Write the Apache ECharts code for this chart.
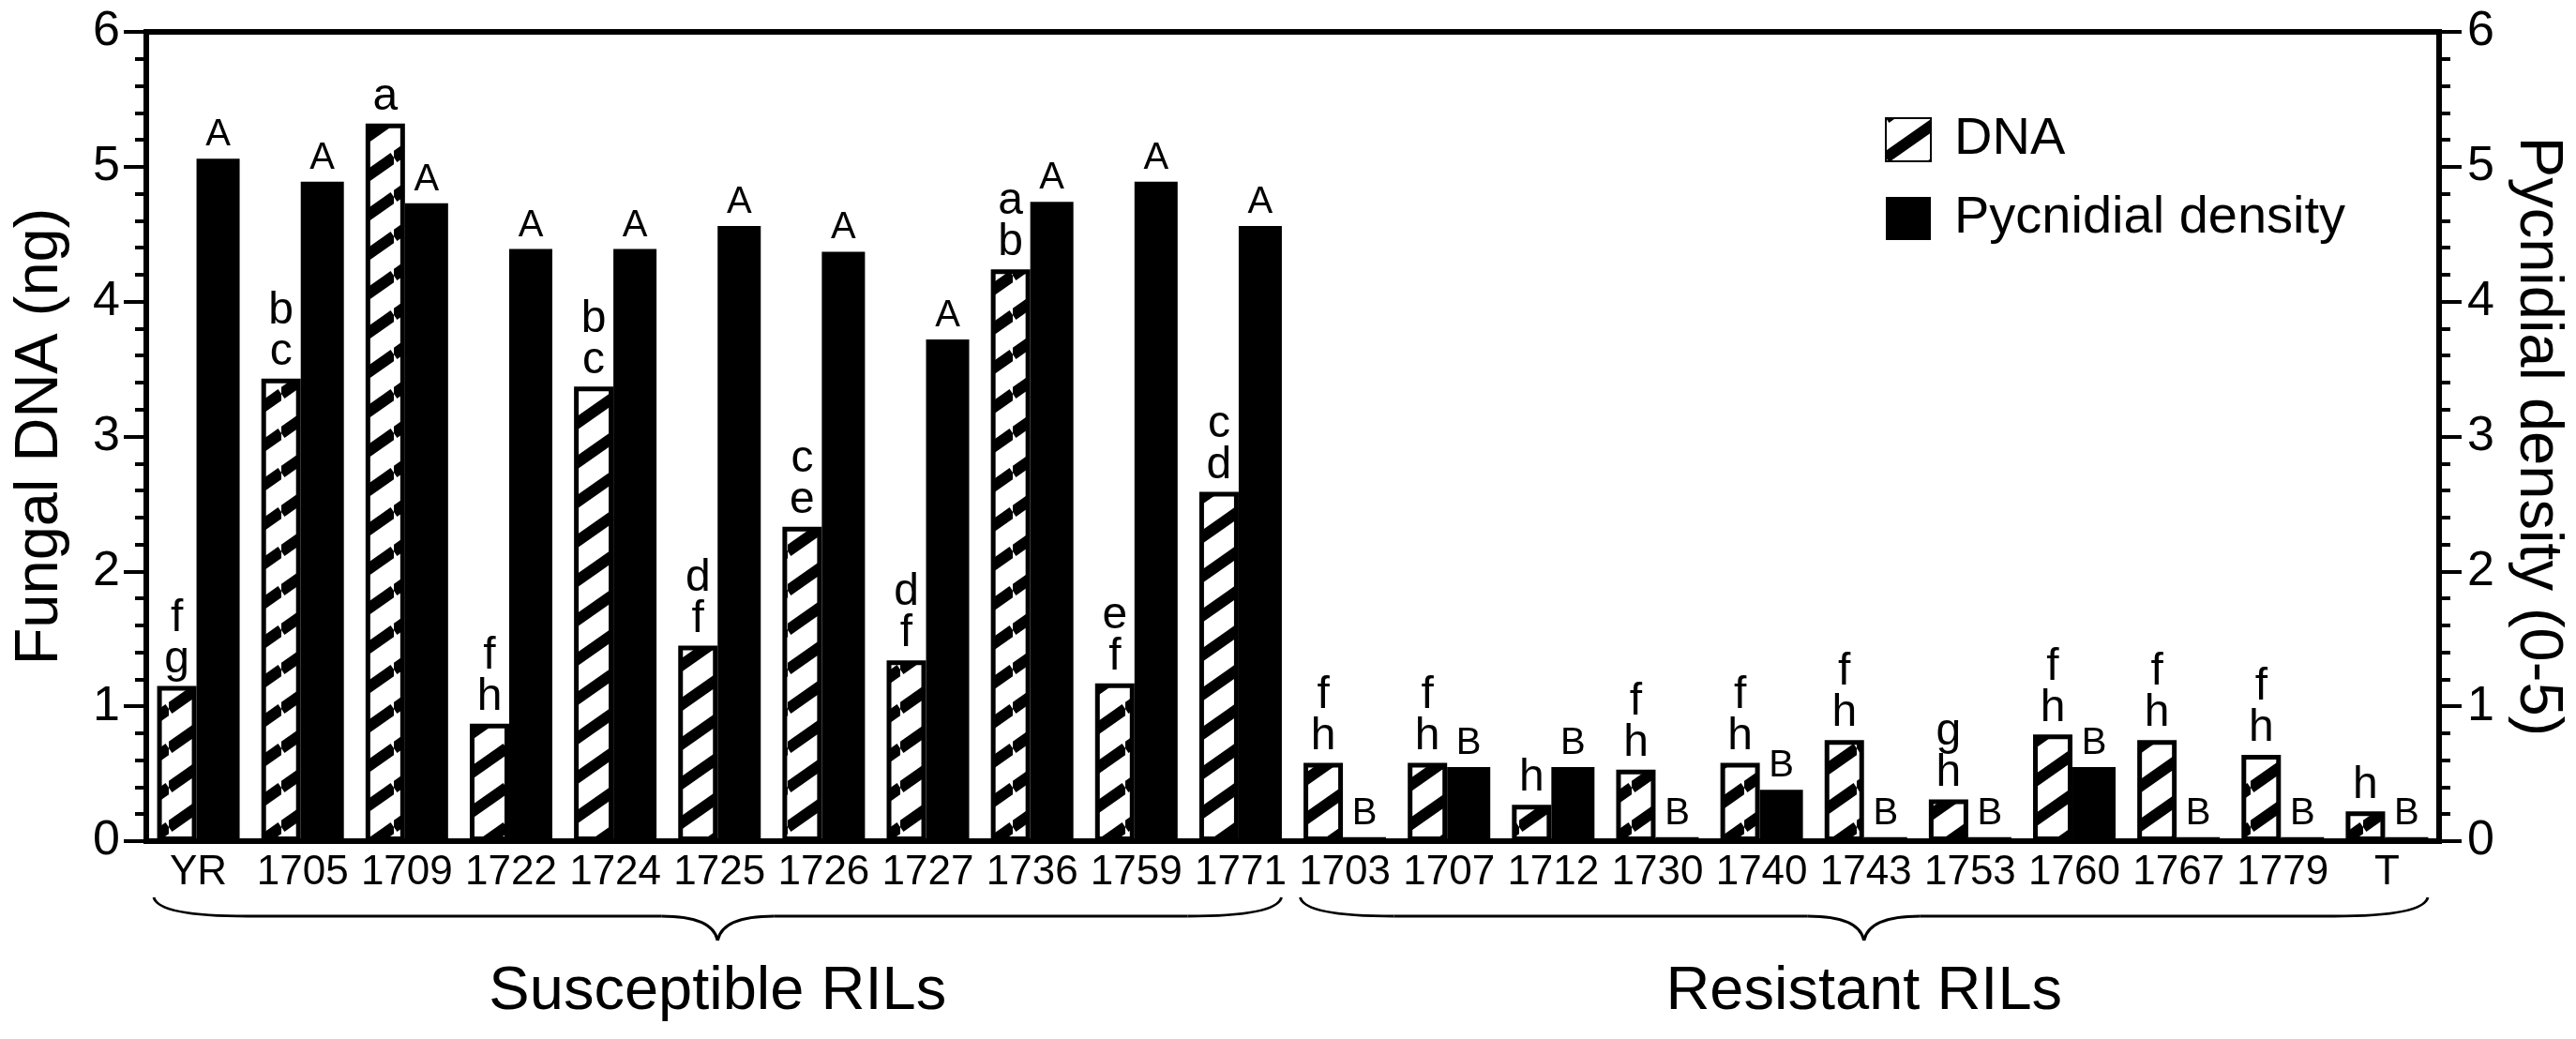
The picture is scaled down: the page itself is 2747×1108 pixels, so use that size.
<!DOCTYPE html>
<html lang="en">
<head>
<meta charset="utf-8" />
<title>Fungal DNA and pycnidial density in RILs</title>
<style>
    html, body { margin: 0; padding: 0; background: #fff; }
    #main { width: 2747px; height: 1108px; }
</style>
<script type="text/javascript" src="https://cdn.jsdelivr.net/npm/echarts@6.0.0/dist/echarts.min.js"></script>
</head>
<body>
<div id="main"></div>
<script type="text/javascript">
// RIL lines on the x axis
var lines = ['YR', '1705', '1709', '1722', '1724', '1725', '1726', '1727', '1736', '1759', '1771',
             '1703', '1707', '1712', '1730', '1740', '1743', '1753', '1760', '1767', '1779', 'T'];

// fungal DNA (ng), left axis
var dnaValues = [1.15, 3.43, 5.32, 0.87, 3.37, 1.45, 2.33, 1.34, 4.24, 1.17, 2.59,
                 0.58, 0.58, 0.27, 0.53, 0.58, 0.75, 0.31, 0.79, 0.75, 0.64, 0.22];

// pycnidial density (0-5), right axis
var densityValues = [5.06, 4.89, 4.73, 4.39, 4.39, 4.56, 4.37, 3.72, 4.74, 4.89, 4.56,
                     0.03, 0.55, 0.55, 0.03, 0.38, 0.03, 0.03, 0.55, 0.03, 0.03, 0.03];

// significance letters ('/' = new line)
var dnaLetters = ['f/g', 'b/c', 'a', 'f/h', 'b/c', 'd/f', 'c/e', 'd/f', 'a/b', 'e/f', 'c/d',
                  'f/h', 'f/h', 'h', 'f/h', 'f/h', 'f/h', 'g/h', 'f/h', 'f/h', 'f/h', 'h'];
var densityLetters = ['A', 'A', 'A', 'A', 'A', 'A', 'A', 'A', 'A', 'A', 'A',
                      'B', 'B', 'B', 'B', 'B', 'B', 'B', 'B', 'B', 'B', 'B'];

// groups under the axis
var groupNames = ['Susceptible RILs', 'Resistant RILs'];
var groupFirst = ['YR', '1703'];
var groupLast = ['1771', 'T'];

var FONT = '"Liberation Sans", Arial, Helvetica, sans-serif';

// diagonal hatch used for the DNA bars
function makeHatch() {
    var w = 60, h = 42;
    var c = document.createElement('canvas');
    c.width = w;
    c.height = h;
    var ctx = c.getContext('2d');
    ctx.fillStyle = '#fff';
    ctx.fillRect(0, 0, w, h);
    ctx.strokeStyle = '#000';
    ctx.lineWidth = 12;
    for (var k = -1; k <= 1; k++) {
        ctx.beginPath();
        ctx.moveTo(0, h + k * h);
        ctx.lineTo(w, k * h);
        ctx.stroke();
    }
    return c;
}
var hatch = { image: makeHatch(), repeat: 'repeat' };

var black = '#000';
var tickStyle = { color: black, width: 4 };

var chart = echarts.init(document.getElementById('main'));

var option = {
    animation: false,
    backgroundColor: '#fff',
    textStyle: { fontFamily: FONT, color: black },
    grid: {
        left: 156, right: 146, top: 34, bottom: 211,
        show: true, borderColor: black, borderWidth: 6,
        containLabel: false, outerBoundsMode: 'none'
    },
    legend: {
        orient: 'vertical',
        left: 2005, top: 116,
        itemWidth: 48, itemHeight: 46, itemGap: 28,
        icon: 'rect',
        textStyle: { fontSize: 56, color: black, fontFamily: FONT, padding: [0, 0, 0, 20] },
        data: ['DNA', 'Pycnidial density']
    },
    xAxis: {
        type: 'category',
        data: lines,
        axisLine: { lineStyle: { color: black, width: 6 } },
        axisTick: { length: 18, lineStyle: tickStyle },
        axisLabel: { fontSize: 44, color: black, margin: 12, interval: 0, fontFamily: FONT },
        splitLine: { show: false }
    },
    yAxis: [
        {
            type: 'value', position: 'left', min: 0, max: 6, interval: 1,
            name: 'Fungal DNA (ng)', nameLocation: 'middle', nameGap: 80,
            nameTextStyle: { fontSize: 65, color: black, fontFamily: FONT },
            axisLine: { show: true, lineStyle: { color: black, width: 6 } },
            axisTick: { show: true, length: 24, lineStyle: tickStyle },
            minorTick: { show: true, splitNumber: 5, length: 12, lineStyle: tickStyle },
            axisLabel: { fontSize: 52, color: black, margin: 28, fontFamily: FONT },
            splitLine: { show: false }
        },
        {
            type: 'value', position: 'right', min: 0, max: 6, interval: 1,
            name: 'Pycnidial density (0-5)', nameLocation: 'middle', nameGap: 72, nameRotate: -90,
            nameTextStyle: { fontSize: 65, color: black, fontFamily: FONT },
            axisLine: { show: true, lineStyle: { color: black, width: 6 } },
            axisTick: { show: true, length: 24, lineStyle: tickStyle },
            minorTick: { show: true, splitNumber: 5, length: 12, lineStyle: tickStyle },
            axisLabel: { fontSize: 52, color: black, margin: 30, fontFamily: FONT },
            splitLine: { show: false }
        }
    ],
    series: [
        {
            name: 'DNA',
            type: 'bar',
            yAxisIndex: 0,
            barWidth: 42,
            barGap: '0%',
            data: dnaValues,
            itemStyle: { color: hatch, borderColor: black, borderWidth: 5 },
            label: {
                show: true, position: 'top', distance: 6,
                fontSize: 48, lineHeight: 44, color: black, fontFamily: FONT,
                formatter: function (p) { return dnaLetters[p.dataIndex].replace('/', '\n'); }
            }
        },
        {
            name: 'Pycnidial density',
            type: 'bar',
            yAxisIndex: 1,
            barWidth: 46,
            barGap: '0%',
            data: densityValues,
            itemStyle: { color: black },
            label: {
                show: true, position: 'top', distance: 5,
                fontSize: 40, color: black, fontFamily: FONT,
                formatter: function (p) { return densityLetters[p.dataIndex]; }
            }
        }
    ]
};

chart.setOption(option);

// braces and group names under the category labels, placed from the axis
var c0 = chart.convertToPixel({ xAxisIndex: 0 }, lines[0]);
var c1 = chart.convertToPixel({ xAxisIndex: 0 }, lines[1]);
var half = (c1 - c0) / 2;
var y0 = chart.convertToPixel({ yAxisIndex: 0 }, 0);
var y1 = y0 + 60, y2 = y0 + 80, y3 = y0 + 106;
var shapes = [];
var braceStyle = { stroke: black, lineWidth: 3, fill: null };

for (var g = 0; g < groupNames.length; g++) {
    var xa = chart.convertToPixel({ xAxisIndex: 0 }, groupFirst[g]) - half + 8;
    var xb = chart.convertToPixel({ xAxisIndex: 0 }, groupLast[g]) + half - 12;
    var xm = (xa + xb) / 2;
    shapes.push({ type: 'bezierCurve', silent: true, style: braceStyle,
        shape: { x1: xa, y1: y1, cpx1: xa + 5, cpy1: y2, x2: xa + 100, y2: y2 } });
    shapes.push({ type: 'line', silent: true, style: braceStyle,
        shape: { x1: xa + 100, y1: y2, x2: xm - 60, y2: y2 } });
    shapes.push({ type: 'bezierCurve', silent: true, style: braceStyle,
        shape: { x1: xm - 60, y1: y2, cpx1: xm - 5, cpy1: y2, x2: xm, y2: y3 } });
    shapes.push({ type: 'bezierCurve', silent: true, style: braceStyle,
        shape: { x1: xm, y1: y3, cpx1: xm + 5, cpy1: y2, x2: xm + 60, y2: y2 } });
    shapes.push({ type: 'line', silent: true, style: braceStyle,
        shape: { x1: xm + 60, y1: y2, x2: xb - 100, y2: y2 } });
    shapes.push({ type: 'bezierCurve', silent: true, style: braceStyle,
        shape: { x1: xb - 100, y1: y2, cpx1: xb - 5, cpy1: y2, x2: xb, y2: y1 } });
    shapes.push({ type: 'text', silent: true, x: xm, y: y0 + 161,
        style: { text: groupNames[g], fontSize: 65, fontFamily: FONT, fill: black,
                 align: 'center', verticalAlign: 'middle' } });
}

chart.setOption({ graphic: shapes });
</script>
</body>
</html>
